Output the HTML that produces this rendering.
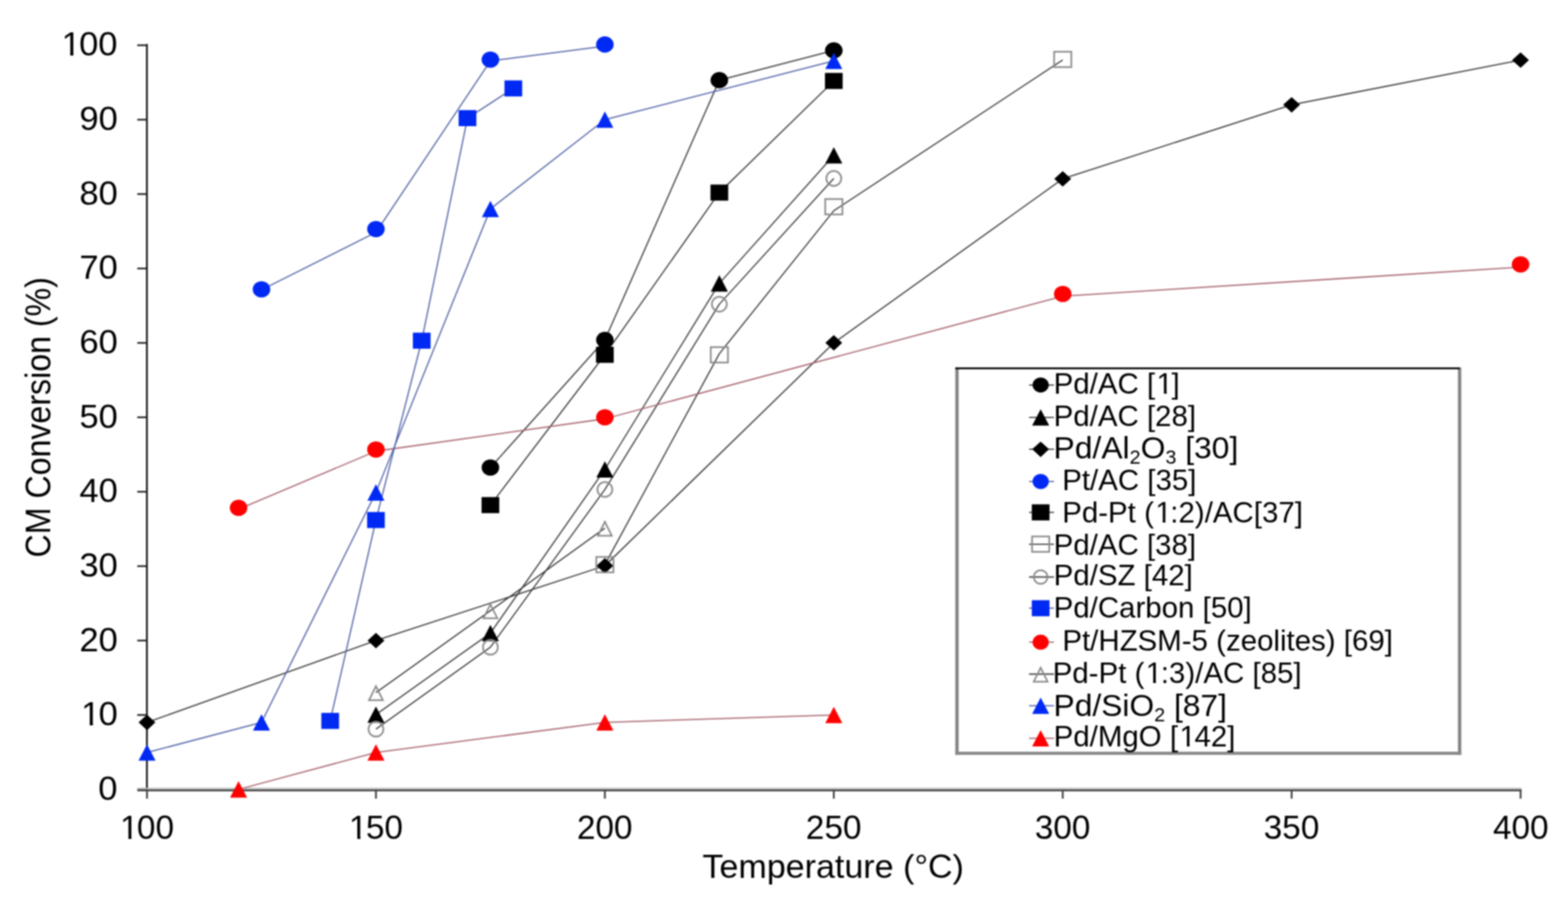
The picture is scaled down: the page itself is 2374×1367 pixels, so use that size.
<!DOCTYPE html>
<html lang="en"><head><meta charset="utf-8"><title>CM Conversion vs Temperature</title>
<style>html,body{margin:0;padding:0;background:#fff;overflow:hidden;}svg{display:block;filter:blur(0.8px);}text{font-family:"Liberation Sans",Arial,Helvetica,sans-serif;fill:#000;}</style>
</head><body>
<svg xmlns="http://www.w3.org/2000/svg" width="2374" height="1367" viewBox="0 0 2374 1367">
<rect x="0" y="0" width="2374" height="1367" fill="#fff"/>
<g id="axes"><line x1="222.4" y1="66.6" x2="222.4" y2="1196" stroke="#151515" stroke-width="2.7"/><line x1="207.8" y1="1195.00" x2="222.4" y2="1195.00" stroke="#1e1e1e" stroke-width="2.5"/><line x1="207.8" y1="1082.35" x2="222.4" y2="1082.35" stroke="#1e1e1e" stroke-width="2.5"/><line x1="207.8" y1="969.70" x2="222.4" y2="969.70" stroke="#1e1e1e" stroke-width="2.5"/><line x1="207.8" y1="857.05" x2="222.4" y2="857.05" stroke="#1e1e1e" stroke-width="2.5"/><line x1="207.8" y1="744.40" x2="222.4" y2="744.40" stroke="#1e1e1e" stroke-width="2.5"/><line x1="207.8" y1="631.75" x2="222.4" y2="631.75" stroke="#1e1e1e" stroke-width="2.5"/><line x1="207.8" y1="519.10" x2="222.4" y2="519.10" stroke="#1e1e1e" stroke-width="2.5"/><line x1="207.8" y1="406.45" x2="222.4" y2="406.45" stroke="#1e1e1e" stroke-width="2.5"/><line x1="207.8" y1="293.80" x2="222.4" y2="293.80" stroke="#1e1e1e" stroke-width="2.5"/><line x1="207.8" y1="181.15" x2="222.4" y2="181.15" stroke="#1e1e1e" stroke-width="2.5"/><line x1="207.8" y1="68.50" x2="222.4" y2="68.50" stroke="#1e1e1e" stroke-width="2.5"/><line x1="208" y1="1193.7" x2="2303.5" y2="1193.7" stroke="#bdbdbd" stroke-width="2.2"/><line x1="208" y1="1196.5" x2="2303.5" y2="1196.5" stroke="#4e4e4e" stroke-width="3"/><line x1="222.6" y1="1195" x2="222.6" y2="1209" stroke="#444" stroke-width="2.8"/><line x1="569.2" y1="1195" x2="569.2" y2="1209" stroke="#444" stroke-width="2.8"/><line x1="915.8" y1="1195" x2="915.8" y2="1209" stroke="#444" stroke-width="2.8"/><line x1="1262.4" y1="1195" x2="1262.4" y2="1209" stroke="#444" stroke-width="2.8"/><line x1="1609.0" y1="1195" x2="1609.0" y2="1209" stroke="#444" stroke-width="2.8"/><line x1="1955.6" y1="1195" x2="1955.6" y2="1209" stroke="#444" stroke-width="2.8"/><line x1="2302.2" y1="1195" x2="2302.2" y2="1209" stroke="#444" stroke-width="2.8"/></g>
<g id="ticklabels"><text transform="translate(148.67,1210.90) scale(1.0550,1)" font-size="49.6">0</text><text transform="translate(120.19,1098.25) scale(1.0550,1)" font-size="49.6" dx="2.48 -2.48">10</text><g transform="translate(120.19,1098.25) scale(1.0550,1)"><rect x="5.26" y="-4.81" width="9.59" height="6.31" fill="#fff"/><rect x="19.44" y="-4.81" width="9.21" height="6.31" fill="#fff"/></g><text transform="translate(120.19,985.60) scale(1.0550,1)" font-size="49.6">20</text><text transform="translate(120.19,872.95) scale(1.0550,1)" font-size="49.6">30</text><text transform="translate(120.19,760.30) scale(1.0550,1)" font-size="49.6">40</text><text transform="translate(120.19,647.65) scale(1.0550,1)" font-size="49.6">50</text><text transform="translate(120.19,535.00) scale(1.0550,1)" font-size="49.6">60</text><text transform="translate(120.19,422.35) scale(1.0550,1)" font-size="49.6">70</text><text transform="translate(120.19,309.70) scale(1.0550,1)" font-size="49.6">80</text><text transform="translate(120.19,197.05) scale(1.0550,1)" font-size="49.6">90</text><text transform="translate(90.64,84.40) scale(1.0550,1)" font-size="49.6" dx="2.48 -2.48 0">100</text><g transform="translate(90.64,84.40) scale(1.0550,1)"><rect x="5.26" y="-4.81" width="9.59" height="6.31" fill="#fff"/><rect x="19.44" y="-4.81" width="9.21" height="6.31" fill="#fff"/></g><text transform="translate(179.25,1269.50) scale(1.0200,1)" font-size="49.5" dx="2.48 -2.48 0">100</text><g transform="translate(179.25,1269.50) scale(1.0200,1)"><rect x="5.25" y="-4.80" width="9.58" height="6.30" fill="#fff"/><rect x="19.40" y="-4.80" width="9.19" height="6.30" fill="#fff"/></g><text transform="translate(525.85,1269.50) scale(1.0200,1)" font-size="49.5" dx="2.48 -2.48 0">150</text><g transform="translate(525.85,1269.50) scale(1.0200,1)"><rect x="5.25" y="-4.80" width="9.58" height="6.30" fill="#fff"/><rect x="19.40" y="-4.80" width="9.19" height="6.30" fill="#fff"/></g><text transform="translate(873.47,1269.50) scale(1.0200,1)" font-size="49.5">200</text><text transform="translate(1220.07,1269.50) scale(1.0200,1)" font-size="49.5">250</text><text transform="translate(1566.67,1269.50) scale(1.0200,1)" font-size="49.5">300</text><text transform="translate(1913.27,1269.50) scale(1.0200,1)" font-size="49.5">350</text><text transform="translate(2260.38,1269.50) scale(1.0200,1)" font-size="49.5">400</text></g>
<text transform="translate(1063.58,1329.30) scale(1.0211,1)" font-size="50.5">Temperature (°C)</text><text transform="translate(75.70,843.93) rotate(-90) scale(0.9096,1)" font-size="53.5">CM Conversion (%)</text>
<g id="lines"><polyline points="742.5,707.8 915.8,514.6 1089.1,121.4 1262.4,76.4" fill="none" stroke="#383838" stroke-width="1.8" stroke-linejoin="round"/><polyline points="569.2,1081.8 742.5,958.4 915.8,710.6 1089.1,429.0 1262.4,235.2" fill="none" stroke="#383838" stroke-width="1.8" stroke-linejoin="round"/><polyline points="222.6,1093.6 569.2,969.7 915.8,856.5 1262.4,519.1 1609.0,270.7 1955.6,158.6 2302.2,91.0" fill="none" stroke="#383838" stroke-width="1.8" stroke-linejoin="round"/><polyline points="395.9,438.7 569.2,351.7 742.5,92.2 915.8,69.9" fill="none" stroke="#4d5fa4" stroke-width="1.8" stroke-linejoin="round"/><polyline points="742.5,764.7 915.8,537.1 1089.1,291.5 1262.4,122.6" fill="none" stroke="#383838" stroke-width="1.8" stroke-linejoin="round"/><polyline points="915.8,854.8 1089.1,535.5 1262.4,319.0 1609.0,90.8" fill="none" stroke="#383838" stroke-width="1.8" stroke-linejoin="round"/><polyline points="569.2,1103.8 742.5,979.8 915.8,741.0 1089.1,460.5 1262.4,270.1" fill="none" stroke="#383838" stroke-width="1.8" stroke-linejoin="round"/><polyline points="499.9,1091.4 569.2,787.2 638.5,515.7 707.8,178.9 777.2,133.8" fill="none" stroke="#4d5fa4" stroke-width="1.8" stroke-linejoin="round"/><polyline points="361.2,770.9 569.2,683.0 915.8,634.0 1609.0,448.3 2302.2,404.5" fill="none" stroke="#a45e6a" stroke-width="1.8" stroke-linejoin="round"/><polyline points="569.2,1048.6 742.5,924.6 915.8,799.6" fill="none" stroke="#383838" stroke-width="1.8" stroke-linejoin="round"/><polyline points="222.6,1139.2 395.9,1093.6 569.2,745.5 742.5,316.3 915.8,181.1 1262.4,92.2" fill="none" stroke="#4d5fa4" stroke-width="1.8" stroke-linejoin="round"/><polyline points="361.2,1195.0 569.2,1139.2 915.8,1093.6 1262.4,1082.3" fill="none" stroke="#a45e6a" stroke-width="1.8" stroke-linejoin="round"/></g>
<g id="markers"><ellipse cx="742.5" cy="707.8" rx="13.30" ry="12.30" fill="#000"/><ellipse cx="915.8" cy="514.6" rx="13.30" ry="12.30" fill="#000"/><ellipse cx="1089.1" cy="121.4" rx="13.30" ry="12.30" fill="#000"/><ellipse cx="1262.4" cy="76.4" rx="13.30" ry="12.30" fill="#000"/><polygon points="569.2,1069.4 582.1,1094.2 556.3,1094.2" fill="#000"/><polygon points="742.5,946.0 755.4,970.8 729.6,970.8" fill="#000"/><polygon points="915.8,698.2 928.7,723.0 902.9,723.0" fill="#000"/><polygon points="1089.1,416.6 1102.0,441.4 1076.2,441.4" fill="#000"/><polygon points="1262.4,222.8 1275.3,247.6 1249.5,247.6" fill="#000"/><polygon points="222.6,1081.9 235.3,1093.6 222.6,1105.4 209.8,1093.6" fill="#000"/><polygon points="569.2,958.0 582.0,969.7 569.2,981.5 556.5,969.7" fill="#000"/><polygon points="915.8,844.7 928.6,856.5 915.8,868.2 903.1,856.5" fill="#000"/><polygon points="1262.4,507.3 1275.1,519.1 1262.4,530.8 1249.6,519.1" fill="#000"/><polygon points="1609.0,259.0 1621.8,270.7 1609.0,282.5 1596.2,270.7" fill="#000"/><polygon points="1955.6,146.9 1968.3,158.6 1955.6,170.4 1942.8,158.6" fill="#000"/><polygon points="2302.2,79.3 2314.9,91.0 2302.2,102.8 2289.4,91.0" fill="#000"/><ellipse cx="395.9" cy="438.0" rx="13.30" ry="12.30" fill="#0029f4"/><ellipse cx="569.2" cy="346.7" rx="13.30" ry="12.30" fill="#0029f4"/><ellipse cx="742.5" cy="90.2" rx="13.30" ry="12.30" fill="#0029f4"/><ellipse cx="915.8" cy="67.4" rx="13.30" ry="12.30" fill="#0029f4"/><rect x="729.1" y="752.5" width="26.8" height="24.3" fill="#000"/><rect x="902.4" y="525.0" width="26.8" height="24.3" fill="#000"/><rect x="1075.7" y="279.4" width="26.8" height="24.3" fill="#000"/><rect x="1249.0" y="110.4" width="26.8" height="24.3" fill="#000"/><rect x="902.8" y="843.1" width="26.0" height="23.3" fill="none" stroke="#8a8a8a" stroke-width="2.5"/><rect x="1076.1" y="525.5" width="26.0" height="23.3" fill="none" stroke="#8a8a8a" stroke-width="2.5"/><rect x="1249.4" y="301.3" width="26.0" height="23.3" fill="none" stroke="#8a8a8a" stroke-width="2.5"/><rect x="1596.0" y="78.3" width="26.0" height="23.3" fill="none" stroke="#8a8a8a" stroke-width="2.5"/><circle cx="569.2" cy="1103.8" r="11.30" fill="none" stroke="#8a8a8a" stroke-width="2.5"/><circle cx="742.5" cy="979.8" r="11.30" fill="none" stroke="#8a8a8a" stroke-width="2.5"/><circle cx="915.8" cy="741.0" r="11.30" fill="none" stroke="#8a8a8a" stroke-width="2.5"/><circle cx="1089.1" cy="460.5" r="11.30" fill="none" stroke="#8a8a8a" stroke-width="2.5"/><circle cx="1262.4" cy="270.1" r="11.30" fill="none" stroke="#8a8a8a" stroke-width="2.5"/><rect x="486.5" y="1079.2" width="26.8" height="24.3" fill="#0029f4"/><rect x="555.8" y="775.1" width="26.8" height="24.3" fill="#0029f4"/><rect x="625.1" y="503.6" width="26.8" height="24.3" fill="#0029f4"/><rect x="694.4" y="166.7" width="26.8" height="24.3" fill="#0029f4"/><rect x="763.8" y="121.7" width="26.8" height="24.3" fill="#0029f4"/><ellipse cx="361.2" cy="768.7" rx="13.30" ry="12.30" fill="#fe0000"/><ellipse cx="569.2" cy="680.5" rx="13.30" ry="12.30" fill="#fe0000"/><ellipse cx="915.8" cy="631.8" rx="13.30" ry="12.30" fill="#fe0000"/><ellipse cx="1609.0" cy="445.0" rx="13.30" ry="12.30" fill="#fe0000"/><ellipse cx="2302.2" cy="400.3" rx="13.30" ry="12.30" fill="#fe0000"/><polygon points="569.2,1038.9 579.7,1060.0 558.7,1060.0" fill="none" stroke="#8a8a8a" stroke-width="2.5" stroke-linejoin="miter"/><polygon points="742.5,915.0 753.0,936.0 732.0,936.0" fill="none" stroke="#8a8a8a" stroke-width="2.5" stroke-linejoin="miter"/><polygon points="915.8,789.9 926.3,811.0 905.3,811.0" fill="none" stroke="#8a8a8a" stroke-width="2.5" stroke-linejoin="miter"/><polygon points="222.6,1126.8 235.5,1151.6 209.7,1151.6" fill="#0029f4"/><polygon points="395.9,1081.2 408.8,1106.0 383.0,1106.0" fill="#0029f4"/><polygon points="569.2,733.1 582.1,757.9 556.3,757.9" fill="#0029f4"/><polygon points="742.5,303.9 755.4,328.7 729.6,328.7" fill="#0029f4"/><polygon points="915.8,168.7 928.7,193.5 902.9,193.5" fill="#0029f4"/><polygon points="1262.4,79.8 1275.3,104.6 1249.5,104.6" fill="#0029f4"/><polygon points="361.2,1182.6 374.1,1207.4 348.3,1207.4" fill="#fe0000"/><polygon points="569.2,1126.8 582.1,1151.6 556.3,1151.6" fill="#fe0000"/><polygon points="915.8,1081.2 928.7,1106.0 902.9,1106.0" fill="#fe0000"/><polygon points="1262.4,1069.9 1275.3,1094.8 1249.5,1094.8" fill="#fe0000"/></g>
<g id="legend"><rect x="1448.9" y="557.6" width="761.0" height="582.8" fill="#fff" stroke="none"/><line x1="1448.9" y1="556.2" x2="1448.9" y2="1142.8000000000002" stroke="#828282" stroke-width="5"/><line x1="2209.9" y1="556.2" x2="2209.9" y2="1142.8000000000002" stroke="#828282" stroke-width="5"/><line x1="1446.4" y1="1140.4" x2="2212.4" y2="1140.4" stroke="#888" stroke-width="4.6"/><line x1="1446.4" y1="557.6" x2="2209.9" y2="557.6" stroke="#000" stroke-width="2.9"/><line x1="1558" y1="582.8" x2="1595.8" y2="582.8" stroke="#383838" stroke-width="1.8"/><ellipse cx="1575.6" cy="582.8" rx="12.25" ry="11.40" fill="#000"/><text transform="translate(1595.20,596.20) scale(1.0000,1)" font-size="44.6" dx="0 0 0 0 0 0 0 2.23 -2.23">Pd/AC [1]</text><g transform="translate(1595.20,596.20) scale(1.0000,1)"><rect x="158.31" y="-4.43" width="8.72" height="5.93" fill="#fff"/><rect x="171.17" y="-4.43" width="8.37" height="5.93" fill="#fff"/></g><line x1="1558" y1="631.8" x2="1595.8" y2="631.8" stroke="#383838" stroke-width="1.8"/><polygon points="1575.6,619.4 1588.5,644.2 1562.7,644.2" fill="#000"/><text transform="translate(1595.20,645.20) scale(1.0000,1)" font-size="44.6">Pd/AC [28]</text><line x1="1558" y1="680.1" x2="1595.8" y2="680.1" stroke="#383838" stroke-width="1.8"/><polygon points="1575.6,668.4 1588.3,680.1 1575.6,691.9 1562.8,680.1" fill="#000"/><text transform="translate(1595.10,694.30) scale(1.0257,1)" font-size="47.0">Pd/Al<tspan font-size="29.1" dy="7.5">2</tspan><tspan dy="-7.5">O</tspan><tspan font-size="29.1" dy="7.5">3</tspan><tspan dy="-7.5"> [30]</tspan></text><line x1="1558" y1="728.9" x2="1595.8" y2="728.9" stroke="#4d5fa4" stroke-width="1.8"/><ellipse cx="1575.6" cy="728.9" rx="12.25" ry="11.40" fill="#0029f4"/><text transform="translate(1608.20,741.80) scale(1.0000,1)" font-size="44.6">Pt/AC [35]</text><line x1="1558" y1="775.6" x2="1595.8" y2="775.6" stroke="#383838" stroke-width="1.8"/><rect x="1562.2" y="763.5" width="26.8" height="24.3" fill="#000"/><text transform="translate(1608.20,790.90) scale(1.0000,1)" font-size="44.6" dx="0 0 0 0 0 0 0 2.23 -2.23 0 0 0 0 0 0 0 0 0">Pd-Pt (1:2)/AC[37]</text><g transform="translate(1608.20,790.90) scale(1.0000,1)"><rect x="143.41" y="-4.43" width="8.72" height="5.93" fill="#fff"/><rect x="156.27" y="-4.43" width="8.37" height="5.93" fill="#fff"/></g><line x1="1558" y1="823.8" x2="1595.8" y2="823.8" stroke="#383838" stroke-width="1.8"/><rect x="1562.6" y="812.1" width="26.0" height="23.3" fill="none" stroke="#8a8a8a" stroke-width="2.5"/><text transform="translate(1595.20,840.30) scale(1.0000,1)" font-size="44.6">Pd/AC [38]</text><line x1="1558" y1="873.5" x2="1595.8" y2="873.5" stroke="#383838" stroke-width="1.8"/><circle cx="1575.6" cy="873.5" r="10.32" fill="none" stroke="#8a8a8a" stroke-width="2.5"/><text transform="translate(1595.20,885.80) scale(1.0000,1)" font-size="44.6">Pd/SZ [42]</text><line x1="1558" y1="920.7" x2="1595.8" y2="920.7" stroke="#4d5fa4" stroke-width="1.8"/><rect x="1562.2" y="908.6" width="26.8" height="24.3" fill="#0029f4"/><text transform="translate(1595.20,935.00) scale(1.0000,1)" font-size="44.6">Pd/Carbon [50]</text><line x1="1558" y1="972.2" x2="1595.8" y2="972.2" stroke="#a45e6a" stroke-width="1.8"/><ellipse cx="1575.6" cy="972.2" rx="12.25" ry="11.40" fill="#fe0000"/><text transform="translate(1608.40,984.50) scale(1.0000,1)" font-size="44.6">Pt/HZSM-5 (zeolites) [69]</text><line x1="1558" y1="1020.5" x2="1595.8" y2="1020.5" stroke="#383838" stroke-width="1.8"/><polygon points="1575.6,1010.9 1586.1,1031.9 1565.1,1031.9" fill="none" stroke="#8a8a8a" stroke-width="2.5" stroke-linejoin="miter"/><text transform="translate(1593.80,1033.90) scale(1.0000,1)" font-size="44.6" dx="0 0 0 0 0 0 0 2.23 -2.23 0 0 0 0 0 0 0 0 0 0">Pd-Pt (1:3)/AC [85]</text><g transform="translate(1593.80,1033.90) scale(1.0000,1)"><rect x="143.41" y="-4.43" width="8.72" height="5.93" fill="#fff"/><rect x="156.27" y="-4.43" width="8.37" height="5.93" fill="#fff"/></g><line x1="1558" y1="1068.3" x2="1595.8" y2="1068.3" stroke="#4d5fa4" stroke-width="1.8"/><polygon points="1575.6,1055.9 1588.5,1080.7 1562.7,1080.7" fill="#0029f4"/><text transform="translate(1595.11,1084.40) scale(1.0233,1)" font-size="47.0">Pd/SiO<tspan font-size="29.1" dy="7.5">2</tspan><tspan dy="-7.5"> [87]</tspan></text><line x1="1558" y1="1117.6" x2="1595.8" y2="1117.6" stroke="#a45e6a" stroke-width="1.8"/><polygon points="1575.6,1105.2 1588.5,1130.0 1562.7,1130.0" fill="#fe0000"/><text transform="translate(1595.20,1130.30) scale(1.0000,1)" font-size="44.6" dx="0 0 0 0 0 0 0 0 2.23 -2.23 0 0">Pd/MgO [142]</text><g transform="translate(1595.20,1130.30) scale(1.0000,1)"><rect x="193.00" y="-4.43" width="8.72" height="5.93" fill="#fff"/><rect x="205.86" y="-4.43" width="8.37" height="5.93" fill="#fff"/></g></g>
</svg>
</body></html>
